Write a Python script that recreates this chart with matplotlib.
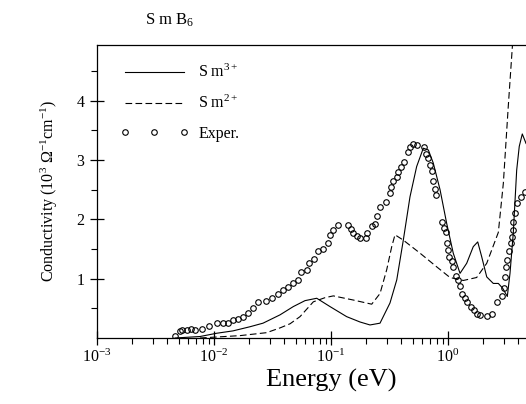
import matplotlib
matplotlib.use("Agg")
import matplotlib.pyplot as plt
from matplotlib.ticker import FixedLocator, LogLocator, NullFormatter
from matplotlib.lines import Line2D

plt.rcParams['font.family'] = ['Liberation Serif', 'DejaVu Serif']
plt.rcParams['mathtext.fontset'] = 'custom'
plt.rcParams['mathtext.rm'] = 'Liberation Serif'
plt.rcParams['mathtext.it'] = 'Liberation Serif:italic'
plt.rcParams['mathtext.bf'] = 'Liberation Serif:bold'

# ---- data ----
exp_energy = [0.00464, 0.00512, 0.00536, 0.00585, 0.00632, 0.00688, 0.00785, 0.00912,
              0.01054, 0.0120, 0.01325, 0.01462, 0.01614, 0.01778, 0.01963, 0.02168,
              0.02393, 0.02767, 0.03112, 0.03548, 0.03908, 0.04315, 0.04764, 0.05188,
              0.05546, 0.06194, 0.06531, 0.0719, 0.0778, 0.0849, 0.0937, 0.0980,
              0.1047, 0.1154, 0.1389, 0.1483, 0.1552, 0.1660, 0.1770, 0.1991,
              0.2042, 0.2228, 0.2377, 0.2460, 0.2624, 0.2951, 0.3192, 0.3258,
              0.3404, 0.3648, 0.3758, 0.3963, 0.4207, 0.4529, 0.4732, 0.4989,
              0.5395, 0.6266, 0.6442, 0.670, 0.7015, 0.7261, 0.7482, 0.7745,
              0.7852, 0.8831, 0.9247, 0.955, 0.975, 1.007, 1.026, 1.076,
              1.109, 1.164, 1.225, 1.267, 1.325, 1.397, 1.462, 1.574,
              1.679, 1.758, 1.879, 2.143, 2.366, 2.608, 2.877, 3.011,
              3.069, 3.133, 3.213, 3.342, 3.435, 3.501, 3.572, 3.614,
              3.741, 3.911, 4.18, 4.55]
exp_sigma = [0.04, 0.11, 0.13, 0.13, 0.15, 0.13, 0.15, 0.21,
             0.25, 0.25, 0.25, 0.30, 0.32, 0.35, 0.42, 0.50,
             0.61, 0.62, 0.67, 0.75, 0.81, 0.86, 0.92, 0.98,
             1.11, 1.15, 1.26, 1.34, 1.46, 1.50, 1.60, 1.74,
             1.82, 1.91, 1.91, 1.83, 1.77, 1.72, 1.69, 1.68,
             1.77, 1.89, 1.93, 2.05, 2.21, 2.30, 2.44, 2.55,
             2.64, 2.72, 2.80, 2.89, 2.97, 3.14, 3.22, 3.27,
             3.25, 3.22, 3.11, 3.03, 2.92, 2.82, 2.65, 2.52,
             2.41, 1.96, 1.85, 1.78, 1.60, 1.48, 1.37, 1.29,
             1.19, 1.05, 0.97, 0.88, 0.74, 0.67, 0.61, 0.53,
             0.47, 0.40, 0.38, 0.37, 0.40, 0.60, 0.71, 0.84,
             1.03, 1.20, 1.32, 1.46, 1.60, 1.71, 1.82, 1.96,
             2.10, 2.27, 2.37, 2.47]

sm3_energy = [0.00464, 0.00759, 0.01054, 0.01453, 0.02032, 0.02624, 0.03664, 0.04764,
              0.05998, 0.07551, 0.0980, 0.1361, 0.177, 0.2154, 0.2624, 0.3192,
              0.3648, 0.415, 0.4732, 0.5395, 0.6151, 0.6792, 0.7482, 0.8551,
              0.975, 1.109, 1.267, 1.445, 1.644, 1.795, 1.941, 2.143,
              2.438, 2.692, 2.931, 3.213, 3.388, 3.614, 3.864, 4.064,
              4.315, 4.645]
sm3_sigma = [0.00, 0.025, 0.08, 0.12, 0.19, 0.25, 0.39, 0.53,
             0.63, 0.67, 0.53, 0.36, 0.27, 0.22, 0.25, 0.59,
             0.98, 1.65, 2.38, 2.89, 3.20, 3.17, 2.95, 2.50,
             1.93, 1.43, 1.09, 1.26, 1.54, 1.62, 1.37, 1.03,
             0.92, 0.92, 0.84, 0.70, 1.09, 1.77, 2.83, 3.23,
             3.44, 3.28]

sm2_energy = [0.00759, 0.01125, 0.01668, 0.02818, 0.03664, 0.04467, 0.05433, 0.07063,
              0.0889, 0.1047, 0.1552, 0.2228, 0.2624, 0.2992, 0.3304, 0.3524,
              0.415, 0.5768, 0.80, 1.04, 1.352, 1.758, 2.143, 2.692,
              2.972, 3.273, 3.548, 3.664]
sm2_sigma = [0.00, 0.02, 0.04, 0.09, 0.17, 0.24, 0.36, 0.61,
             0.68, 0.71, 0.64, 0.57, 0.75, 1.15, 1.54, 1.74,
             1.65, 1.43, 1.20, 1.02, 0.97, 1.02, 1.26, 1.78,
             2.61, 3.90, 4.91, 5.36]

labels = ["S m$^{3+}$", "S m$^{2+}$", "Exper."]
x_ticks = [1e-3, 1e-2, 1e-1, 1e0]
y_ticks = [1, 2, 3, 4]
y_minor = [0.5, 1.5, 2.5, 3.5, 4.5]

W, H = 526, 404
fig = plt.figure(figsize=(W / 100, H / 100), dpi=100)
left, right, top, bottom = 97, 97 + 4 * 117, 45, 338
ax = fig.add_axes([left / W, (H - bottom) / H, (right - left) / W, (bottom - top) / H])

l1, = ax.plot(sm3_energy, sm3_sigma, '-', color='black', lw=0.8)
l2, = ax.plot(sm2_energy, sm2_sigma, '--', color='black', lw=0.8, dashes=(6, 3))
l3, = ax.plot(exp_energy, exp_sigma, 'o', mfc='none', mec='black', ms=4.0, mew=0.8, ls='none')

ax.set_xscale('log')
ax.set_xlim(1e-3, 10)
ax.set_ylim(0, 4.94)

ax.yaxis.set_major_locator(FixedLocator(y_ticks))
ax.yaxis.set_minor_locator(FixedLocator(y_minor))
ax.xaxis.set_major_locator(FixedLocator(x_ticks))
ax.xaxis.set_minor_locator(LogLocator(base=10, subs=range(2, 10), numticks=20))
ax.xaxis.set_minor_formatter(NullFormatter())

ax.tick_params(which='major', direction='inout', length=10, width=0.9, labelsize=11.5)
ax.tick_params(which='minor', direction='out', length=4, width=0.8)
ax.tick_params(axis='x', which='major', pad=3)
ax.tick_params(axis='y', which='major', pad=4)

for s in ['left', 'bottom', 'top', 'right']:
    ax.spines[s].set_linewidth(0.9)

ax.set_xlabel("Energy (eV)", fontsize=19, labelpad=2)
ax.set_ylabel("Conductivity (10$^3$ Ω$^{-1}$cm$^{-1}$)", fontsize=11.5, labelpad=12)

fig.text(145 / W, 1 - 20 / H, "S m B$_6$", fontsize=12, ha='left', va='center')

ax.legend([l1, l2, l3], labels, loc='upper left', bbox_to_anchor=(23 / 468, 0.935),
          frameon=False, handlelength=4.3, handletextpad=0.6, labelspacing=0.85,
          borderpad=0, borderaxespad=0, numpoints=3, fontsize=11.5)

fig.savefig("out.png", dpi=100)
